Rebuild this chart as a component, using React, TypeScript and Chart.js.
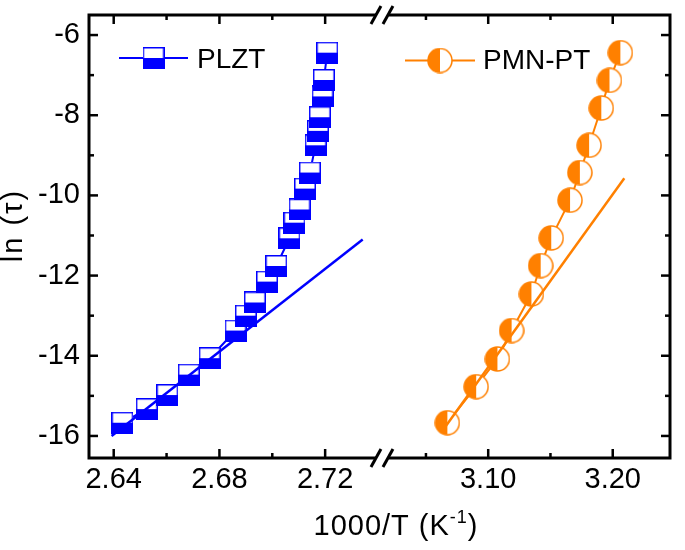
import { useEffect, useRef } from "react"
import { Chart, registerables } from "chart.js"

Chart.register(...registerables)

// PLZT, left part of the broken x axis
const plztX = [2.6433, 2.6525, 2.6603, 2.6684, 2.6763, 2.6861, 2.69, 2.6934, 2.698, 2.7015, 2.7065, 2.7084, 2.7103, 2.7124, 2.7142, 2.7164, 2.7173, 2.718, 2.719, 2.7195, 2.7208]
const plztY = [-15.67, -15.33, -14.98, -14.47, -14.06, -13.37, -13.0, -12.67, -12.15, -11.76, -11.07, -10.68, -10.35, -9.83, -9.43, -8.75, -8.39, -8.05, -7.53, -7.12, -6.44]
const plztFitX = [2.6392, 2.7342]
const plztFitY = [-16.0, -11.1]

// PMN-PT, right part of the broken x axis
const pmnX = [3.0672, 3.0903, 3.1074, 3.1188, 3.1347, 3.1421, 3.1506, 3.1657, 3.1736, 3.181, 3.1908, 3.1974, 3.2061]
const pmnY = [-15.67, -14.77, -14.08, -13.37, -12.46, -11.75, -11.06, -10.12, -9.43, -8.75, -7.82, -7.13, -6.44]
const pmnFitX = [3.066, 3.2093]
const pmnFitY = [-15.75, -9.57]

const xTicksLeft = [2.64, 2.68, 2.72]
const xMinorLeft = [2.66, 2.7]
const xTicksRight = [3.1, 3.2]
const xMinorRight = [3.05, 3.15]
const yTicks = [-16, -14, -12, -10, -8, -6]
const yMinor = [-15, -13, -11, -9, -7]

const BLUE = "#0000ff"
const ORANGE = "#ff8000"
const FONT = "'Liberation Sans', Arial, sans-serif"

function makeSquare(size: number, color: string) {
  const c = document.createElement("canvas")
  c.width = size
  c.height = size
  const g = c.getContext("2d")!
  g.fillStyle = "#fff"
  g.fillRect(0, 0, size, size)
  g.fillStyle = color
  g.fillRect(0, size / 2, size, size / 2)
  g.strokeStyle = color
  g.lineWidth = 1.5
  g.strokeRect(0.75, 0.75, size - 1.5, size - 1.5)
  return c
}

function makeHalfCircle(size: number, color: string) {
  const c = document.createElement("canvas")
  c.width = size
  c.height = size
  const g = c.getContext("2d")!
  const m = size / 2
  const r = m - 1
  g.beginPath()
  g.arc(m, m, r, 0, Math.PI * 2)
  g.fillStyle = "#fff"
  g.fill()
  g.beginPath()
  g.moveTo(m, m)
  g.arc(m, m, r, Math.PI / 2, (Math.PI * 3) / 2)
  g.closePath()
  g.fillStyle = color
  g.fill()
  g.beginPath()
  g.arc(m, m, r, 0, Math.PI * 2)
  g.strokeStyle = color
  g.lineWidth = 1.5
  g.stroke()
  return c
}

const pts = (xs: number[], ys: number[]) => xs.map((x, i) => ({ x, y: ys[i] }))

export default function App() {
  const chartRef = useRef<HTMLCanvasElement>(null)

  useEffect(() => {
    document.body.style.margin = "0"
    if (!chartRef.current) return
    const square = makeSquare(22, BLUE)
    const circle = makeHalfCircle(26, ORANGE)

    const framePlugin = {
      id: "frame",
      afterDraw(chart: any) {
        const { ctx, chartArea: a } = chart
        const xL = chart.scales.xL
        const xR = chart.scales.xR
        const y = chart.scales.y
        const line = (x1: number, y1: number, x2: number, y2: number, w: number) => {
          ctx.beginPath()
          ctx.lineWidth = w
          ctx.moveTo(x1, y1)
          ctx.lineTo(x2, y2)
          ctx.stroke()
        }
        ctx.save()
        ctx.strokeStyle = "#000"
        ctx.lineWidth = 3
        ctx.strokeRect(a.left, a.top, a.right - a.left, a.bottom - a.top)

        // ticks pointing inwards on all four sides
        const xTick = (px: number, len: number) => {
          line(px, a.bottom, px, a.bottom - len, 2.5)
          line(px, a.top, px, a.top + len, 2.5)
        }
        const yTick = (py: number, len: number) => {
          line(a.left, py, a.left + len, py, 2.5)
          line(a.right, py, a.right - len, py, 2.5)
        }
        xTicksLeft.forEach((v) => xTick(xL.getPixelForValue(v), 9))
        xMinorLeft.forEach((v) => xTick(xL.getPixelForValue(v), 5))
        xTicksRight.forEach((v) => xTick(xR.getPixelForValue(v), 9))
        xMinorRight.forEach((v) => xTick(xR.getPixelForValue(v), 5))
        yTicks.forEach((v) => yTick(y.getPixelForValue(v), 9))
        yMinor.forEach((v) => yTick(y.getPixelForValue(v), 5))

        // axis break marks
        const brk = xL.right
        for (const yy of [a.top, a.bottom]) {
          ctx.fillStyle = "#fff"
          ctx.fillRect(brk - 6, yy - 2, 12.5, 4)
          line(brk - 11, yy + 9, brk - 1, yy - 9, 3)
          line(brk + 1, yy + 9, brk + 11, yy - 9, 3)
        }

        // legend
        ctx.strokeStyle = BLUE
        line(119, 58, 188, 58, 2)
        ctx.drawImage(square, 153.5 - 11, 58 - 11)
        ctx.strokeStyle = ORANGE
        line(405, 60.5, 475, 60.5, 2)
        ctx.drawImage(circle, 440 - 13, 60.5 - 13)
        ctx.fillStyle = "#000"
        ctx.font = `28px ${FONT}`
        ctx.textAlign = "left"
        ctx.textBaseline = "alphabetic"
        ctx.fillText("PLZT", 197, 68)
        ctx.fillText("PMN-PT", 483, 69)

        // axis titles
        ctx.letterSpacing = "1px"
        const main = "1000/T (K"
        const sup = "-1"
        ctx.font = `29px ${FONT}`
        const w1 = ctx.measureText(main).width
        const w3 = ctx.measureText(")").width
        ctx.font = `18px ${FONT}`
        const w2 = ctx.measureText(sup).width
        let x0 = 396 - (w1 + w2 + w3) / 2
        ctx.font = `29px ${FONT}`
        ctx.fillText(main, x0, 535)
        x0 += w1
        ctx.font = `18px ${FONT}`
        ctx.fillText(sup, x0, 523)
        x0 += w2
        ctx.font = `29px ${FONT}`
        ctx.fillText(")", x0, 535)

        ctx.translate(22, 225.5)
        ctx.rotate(-Math.PI / 2)
        ctx.textAlign = "center"
        ctx.letterSpacing = "2px"
        ctx.fillText("ln (τ)", 0, 0)
        ctx.restore()
      },
    }

    const tickFont = { family: FONT, size: 29 }

    const chart = new Chart(chartRef.current, {
      type: "scatter",
      data: {
        datasets: [
          {
            label: "PLZT fit",
            data: pts(plztFitX, plztFitY),
            xAxisID: "xL",
            showLine: true,
            borderColor: BLUE,
            borderWidth: 2.5,
            pointRadius: 0,
            order: 0,
          },
          {
            label: "PMN-PT fit",
            data: pts(pmnFitX, pmnFitY),
            xAxisID: "xR",
            showLine: true,
            borderColor: ORANGE,
            borderWidth: 2.5,
            pointRadius: 0,
            order: 0,
          },
          {
            label: "PLZT",
            data: pts(plztX, plztY),
            xAxisID: "xL",
            showLine: true,
            borderColor: BLUE,
            borderWidth: 2,
            pointStyle: square,
            pointRadius: 11,
            order: 1,
          },
          {
            label: "PMN-PT",
            data: pts(pmnX, pmnY),
            xAxisID: "xR",
            showLine: true,
            borderColor: ORANGE,
            borderWidth: 2,
            pointStyle: circle,
            pointRadius: 13,
            order: 1,
          },
        ],
      },
      options: {
        responsive: false,
        animation: false,
        layout: { padding: { top: 10, right: 8, left: 0, bottom: 0 } },
        scales: {
          xL: {
            type: "linear",
            position: "bottom",
            stack: "x",
            stackWeight: 296.5,
            min: 2.63065,
            max: 2.7415,
            afterBuildTicks: (s: any) => {
              s.ticks = xTicksLeft.map((value) => ({ value }))
            },
            afterFit: (s: any) => {
              s.height = 92
              s.paddingLeft = 0
              s.paddingRight = 0
            },
            grid: { display: false, drawTicks: false },
            border: { display: false },
            ticks: {
              font: tickFont,
              color: "#000",
              padding: 5,
              maxRotation: 0,
              autoSkip: false,
              callback: (v: any) => Number(v).toFixed(2),
            },
          },
          xR: {
            type: "linear",
            position: "bottom",
            stack: "x",
            stackWeight: 291.5,
            min: 3.01468,
            max: 3.246,
            afterBuildTicks: (s: any) => {
              s.ticks = xTicksRight.map((value) => ({ value }))
            },
            afterFit: (s: any) => {
              s.height = 92
              s.paddingLeft = 0
              s.paddingRight = 0
            },
            grid: { display: false, drawTicks: false },
            border: { display: false },
            ticks: {
              font: tickFont,
              color: "#000",
              padding: 5,
              maxRotation: 0,
              autoSkip: false,
              callback: (v: any) => Number(v).toFixed(2),
            },
          },
          y: {
            type: "linear",
            position: "left",
            min: -16.55,
            max: -5.5,
            afterBuildTicks: (s: any) => {
              s.ticks = yTicks.map((value) => ({ value }))
            },
            afterFit: (s: any) => {
              s.width = 89
              s.paddingTop = 0
              s.paddingBottom = 0
            },
            grid: { display: false, drawTicks: false },
            border: { display: false },
            ticks: {
              font: tickFont,
              color: "#000",
              padding: 9,
              autoSkip: false,
              callback: (v: any) => String(v),
            },
          },
        },
        plugins: {
          legend: { display: false },
          tooltip: { enabled: false },
        },
      },
      plugins: [framePlugin],
    } as any)

    return () => {
      chart.destroy()
    }
  }, [])

  return (
    <div style={{ width: 685, height: 550 }}>
      <canvas ref={chartRef} width={685} height={550} />
    </div>
  )
}
